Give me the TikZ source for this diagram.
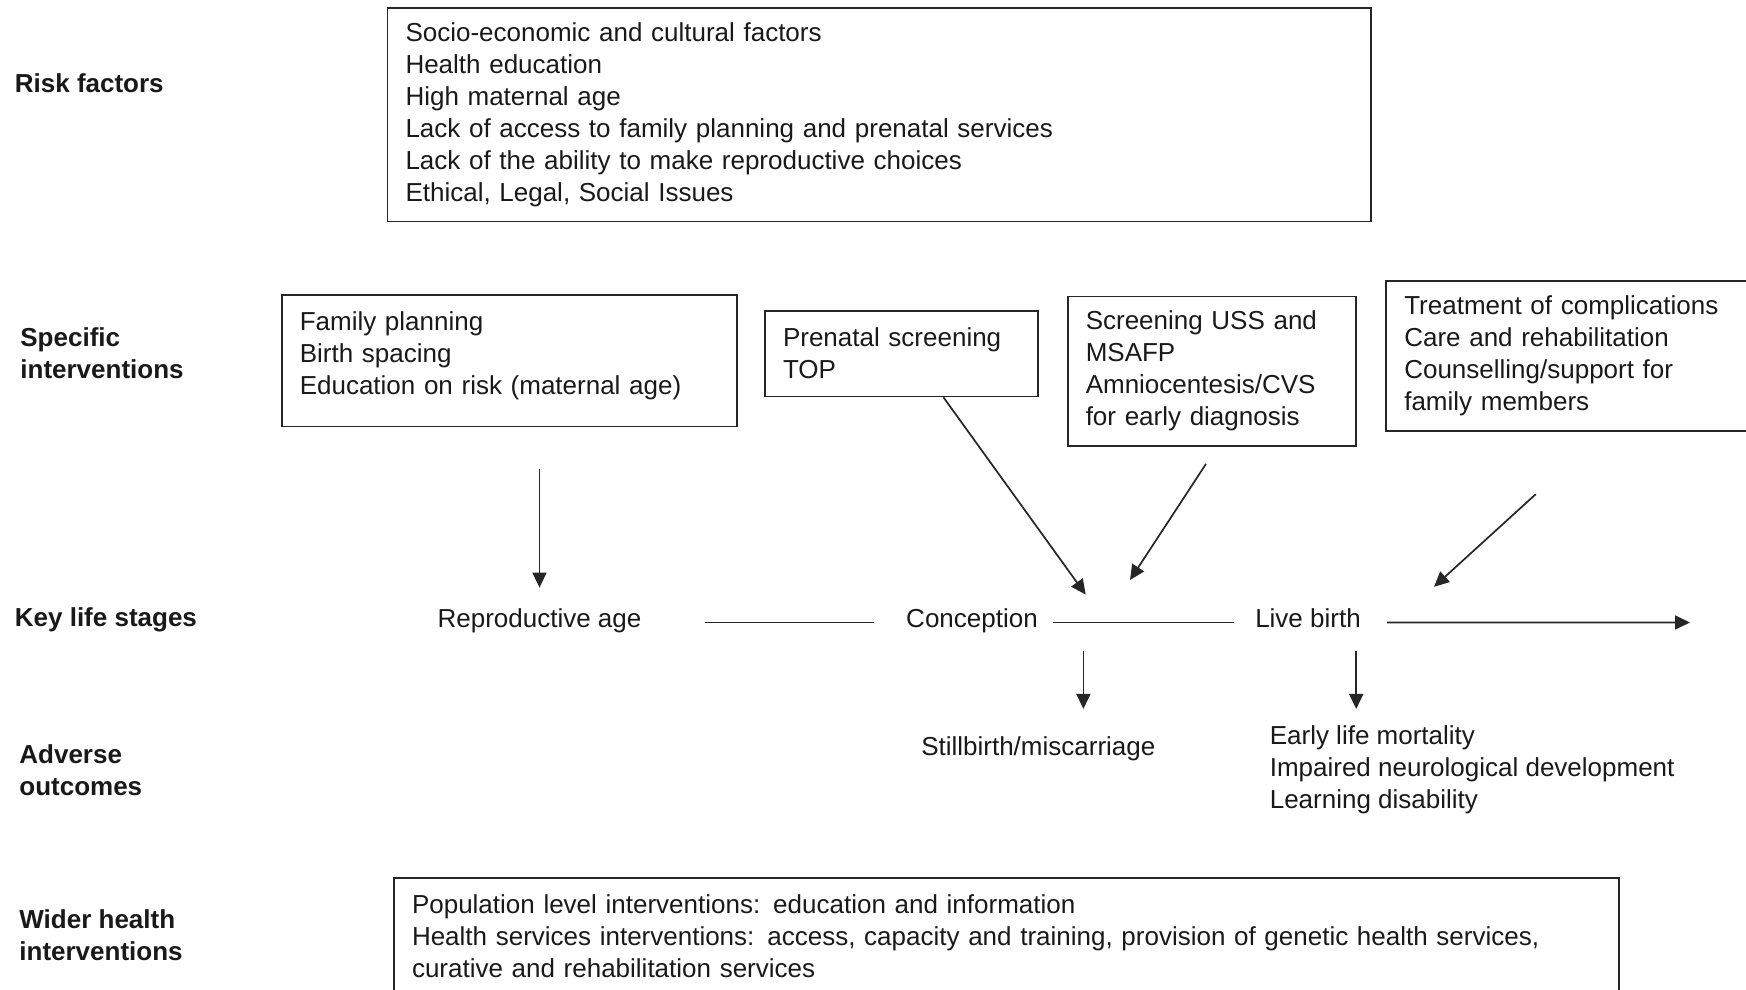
\documentclass[tikz,border=0pt]{standalone}
\usepackage{fontspec}
\setmainfont{Liberation Sans}
\usetikzlibrary{arrows.meta,calc}
\begin{document}
\begin{tikzpicture}[x=0.5pt,y=-0.5pt,
  every node/.style={font=\fontsize{13pt}{16pt}\selectfont, text=black!90},
  box/.style={draw=black!85, line width=0.85pt, inner xsep=9pt, inner ysep=0pt, align=left},
  lbl/.style={font=\fontsize{13pt}{16pt}\selectfont\bfseries, inner sep=0pt, align=left, anchor=west},
  stage/.style={inner sep=0pt, text height=9.5pt, text depth=2.7pt, anchor=base},
  ln/.style={draw=black!85, line width=0.85pt},
  arr/.style={ln, -{Triangle[length=7.5pt,width=7pt]}}]
\useasboundingbox (0,0) rectangle (1746,990);
\clip (0,0) rectangle (1746,990);

% row labels
\node[lbl] (rf) at (14.5,83.5) {Risk factors};
\node[lbl] (si) at (20,353) {Specific\\interventions};
\node[lbl] (kls) at (14.5,620) {Key life stages};
\node[lbl] (ao) at (19,770) {Adverse\\outcomes};
\node[lbl] (wh) at (19,935) {Wider health\\interventions};

% boxes
\node[box, text width=473.6pt, minimum height=106.8pt] (risk) at (879.1,114.8)
  {Socio-economic and cultural factors\\Health education\\High maternal age\\Lack of access to family planning and prenatal services\\Lack of the ability to make reproductive choices\\Ethical, Legal, Social Issues};
\node[box, text width=209.65pt, minimum height=65.75pt] (fam) at (509.4,360.8)
  {Family planning\\Birth spacing\\Education on risk (maternal age)\\[-8.6pt]\mbox{}};
\node[box, text width=118.4pt, minimum height=42.85pt] (pre) at (901.4,353.6)
  {Prenatal screening\\TOP};
\node[box, text width=126.25pt, minimum height=74.65pt] (scr) at (1212,371)
  {Screening USS and\\MSAFP\\Amniocentesis/CVS\\for early diagnosis};
\node[box, text width=198.85pt, minimum height=75pt] (tre) at (1603.15,355.7)
  {Treatment of complications\\Care and rehabilitation\\Counselling/support for\\family members};
\node[box, text width=594.5pt, minimum height=58.15pt] (wid) at (1006.5,935.85)
  {Population level interventions: education and information\\Health services interventions: access, capacity and training, provision of genetic health services,\\curative and rehabilitation services};

% life stages
\node[stage] (rep) at (539.5,627) {Reproductive age};
\node[stage] (con) at (972,627) {Conception};
\node[stage] (live) at (1308,627) {Live birth};

% outcomes
\node[stage] (still) at (1038.3,755) {Stillbirth/miscarriage};
\node[inner sep=0pt, align=left, anchor=west] (early) at (1269.4,770)
  {Early life mortality\\Impaired neurological development\\Learning disability};

% free ends
\coordinate (c1) at (1085.7,594.6);
\coordinate (c2) at (1130,580);
\coordinate (c3) at (1434,586.8);
\coordinate (endc) at (1690,622.5);

% timeline
\draw[ln] ([xshift=31.75pt,yshift=-1.1pt]rep.east) -- ([xshift=-16pt,yshift=-1.1pt]con.west);
\draw[ln] ([xshift=7.5pt,yshift=-1.1pt]con.east) -- ([xshift=-10.5pt,yshift=-1.1pt]live.west);
\draw[arr] ([xshift=13pt,yshift=-1.1pt]live.east) -- (endc);

% intervention arrows
\draw[arr] ($(fam.south -| rep.north)+(0,41.2)$) -- ([yshift=10pt]rep.north);
\draw[arr] ($(pre.south west)+(179.3,0)$) -- (c1);
\draw[arr] ($(scr.south)+(-6,17.4)$) -- (c2);
\draw[arr] ($(tre.south west)+(150.3,62.6)$) -- (c3);

% outcome arrows
\draw[arr] ($(con.base)+(111.4,24.4)$) -- ($(still.north)+(45.1,-26.7)$);
\draw[arr] ($(live.base)+(48.2,24.4)$) -- ($(early.north west)+(86.8,-16.5)$);
\end{tikzpicture}
\end{document}
